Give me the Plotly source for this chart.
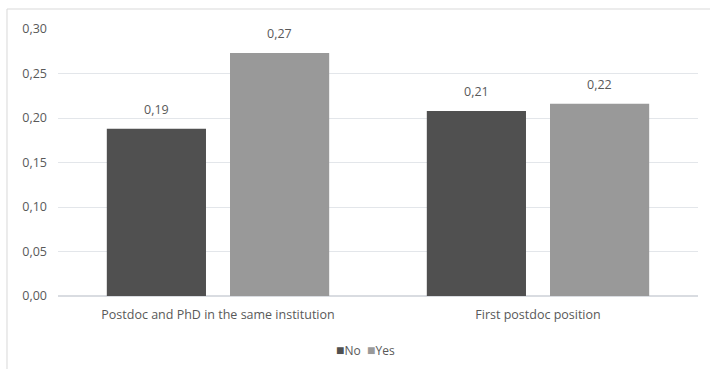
import plotly.graph_objects as go

categories = ["Postdoc and PhD in the same institution", "First postdoc position"]
series_names = ["No", "Yes"]
no_values = [0.188, 0.208]
yes_values = [0.273, 0.216]
y_ticks = [0.0, 0.05, 0.10, 0.15, 0.20, 0.25, 0.30]

colors = ["#505050", "#999999"]
bargap = 0.23
bargroupgap = 0.195
font = "Open Sans, Liberation Sans, sans-serif"
txt = "#595959"

fig = go.Figure()
for name, vals, col in zip(series_names, [no_values, yes_values], colors):
    fig.add_trace(go.Bar(name=name, x=categories, y=vals, showlegend=False,
                         marker=dict(color=col, line=dict(width=0))))

off = (1 - bargap) / 4
for i, (n, y) in enumerate(zip(no_values, yes_values)):
    for dx, v in ((-off, n), (off, y)):
        fig.add_annotation(x=i + dx, y=v, text=f"{v:.2f}".replace(".", ","),
                           showarrow=False, yanchor="bottom", yshift=9,
                           font=dict(size=12.5, color=txt, family=font))

legend_text = "\u00a0\u00a0".join(
    f"<span style='color:{c};font-size:14px'>■</span>{n}" for n, c in zip(series_names, colors)
)
fig.add_annotation(xref="paper", yref="paper", x=0.48, y=-0.2, xanchor="center",
                   yanchor="middle", showarrow=False, text=legend_text,
                   font=dict(size=12, color=txt, family=font))

fig.add_shape(type="rect", xref="paper", yref="paper",
              x0=-0.0797, x1=1.03, y0=-0.3, y1=1.0749,
              line=dict(color="#d9d9d9", width=1), fillcolor="rgba(0,0,0,0)")

fig.update_layout(
    width=710, height=369,
    margin=dict(l=58, r=12, t=29, b=73, autoexpand=False),
    paper_bgcolor="white", plot_bgcolor="white",
    barmode="group", bargap=bargap, bargroupgap=bargroupgap,
    separators=",.",
    font=dict(family=font, size=12.5, color=txt),
    showlegend=False,
    xaxis=dict(showgrid=False, showline=False, ticks="", automargin=False,
               ticklabelstandoff=9, tickfont=dict(size=12.5, color=txt)),
    yaxis=dict(range=[0, 0.30], tickvals=y_ticks, tickformat=".2f", automargin=False,
               ticklabelstandoff=10,
               gridcolor="#e3e6ea", gridwidth=1, zeroline=True, zerolinecolor="#d9dce1",
               showline=False, ticks="", ticklen=0, tickfont=dict(size=12.5, color=txt)),
)
fig.write_html("out.html", config={"displayModeBar": False},
               post_script="document.body.style.margin='0';")
